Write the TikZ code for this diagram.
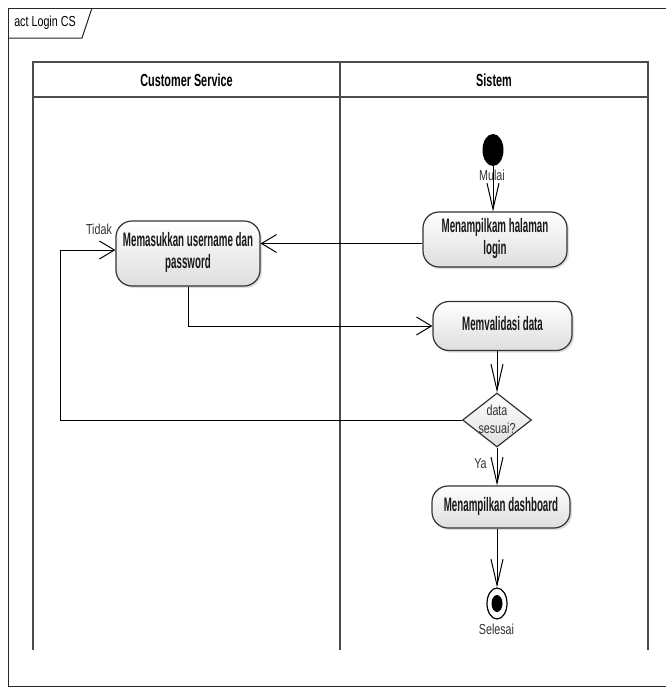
\documentclass[tikz,border=0pt]{standalone}
\usepackage{fontspec}
\setmainfont{Liberation Sans}
\usetikzlibrary{arrows.meta,shapes.geometric,shadows,calc}

% condensed text helpers
\newcommand{\boxtxt}[1]{\scalebox{0.5}[1]{\fontsize{19.5}{22}\selectfont\bfseries\begin{tabular}{@{}c@{}}#1\end{tabular}}}
\newcommand{\headtxt}[1]{\scalebox{0.62}[1]{\fontsize{17.5}{19}\selectfont\bfseries #1}}
\newcommand{\labtxt}[1]{\scalebox{0.74}[1]{\fontsize{14.5}{18}\selectfont\begin{tabular}{@{}c@{}}#1\end{tabular}}}

\begin{document}
\begin{tikzpicture}[x=1pt,y=-1pt,
  lane/.style={line width=1.5pt, draw=black!70},
  act/.style={draw=black!80, line width=1.2pt, rounded corners=16pt,
    top color=white, bottom color=black!13,
    drop shadow={shadow xshift=2pt,shadow yshift=-2pt,opacity=0.25},
    inner sep=0pt, text=black!90},
  flow/.style={line width=1pt, draw=black},
  harr/.style={flow, -{Straight Barb[length=15pt,width=18pt]}},
  varr/.style={flow, -{Straight Barb[length=26pt,width=12pt]}},
  lab/.style={inner sep=0pt, text=black!80},
]
\useasboundingbox (0,0) rectangle (666,688);
\fill[white] (0,0) rectangle (666,688);

% diagram frame and its name tab
\draw[line width=1pt, black!85] (666,8) -- (8,8) -- (8,686) -- (666,686);
\draw[line width=1pt, black!85] (8,38) -- (82,38) -- (92,8);
\node[lab, text=black] (frametitle) at (45,23) {\labtxt{act Login CS}};

% swimlanes
\draw[lane] (33,650) -- (33,62) -- (648,62) -- (648,650);
\draw[lane] (33,97) -- (648,97);
\draw[lane] (340,62) -- (340,650);
\node (laneA) at (186.5,80) {\headtxt{Customer Service}};
\node (laneB) at (494,80) {\headtxt{Sistem}};

% activity nodes
\node[fill=black, ellipse, minimum width=21pt, minimum height=32pt, inner sep=0pt] (init) at (493,150) {};
\node[act, minimum width=144pt, minimum height=55pt] (login) at (495,239.5) {\boxtxt{Menampilkam halaman\\login}};
\node[act, minimum width=144pt, minimum height=65pt] (input) at (188,253.5) {\boxtxt{Memasukkan username dan\\password}};
\node[act, minimum width=139pt, minimum height=49pt] (valid) at (502.5,326) {\boxtxt{Memvalidasi data}};
\node[diamond, draw=black!80, line width=1.2pt, top color=white, bottom color=black!13,
  minimum width=69pt, minimum height=54pt, inner sep=0pt] (dec) at (497,420) {};
\node[lab] (dectext) at (497,421) {\labtxt{data\\sesuai?}};
\node[act, minimum width=138pt, minimum height=42pt] (dash) at (501,507) {\boxtxt{Menampilkan dashboard}};
\node[ellipse, draw=black, line width=1.2pt, fill=white, minimum width=20pt, minimum height=31pt, inner sep=0pt] (final) at (497,603.5) {};
\node[ellipse, fill=black, minimum width=11pt, minimum height=17pt, inner sep=0pt] (finalcore) at (final.center) {};

% labels
\node[lab] (mulai) at (492,177) {\labtxt{Mulai}};
\node[lab] (tidak) at (99,231) {\labtxt{Tidak}};
\node[lab] (ya) at (480.5,465) {\labtxt{Ya}};
\node[lab] (selesai) at (496.5,631) {\labtxt{Selesai}};

% control flows
\coordinate (back) at (60,250);
\coordinate (showout) at ($(login.west)+(0,4)$);
\draw[varr] (init.south) -- (login.north -| init.south);
\draw[harr] (showout) -- (showout -| input.east);
\draw[harr] (input.south) |- (valid.west);
\draw[varr] (dec.north |- valid.south) -- (dec.north);
\draw[harr] (dec.west) -| (back) -- (back -| input.west);
\draw[varr] (dec.south) -- (dec.south |- dash.north);
\draw[varr] (final.north |- dash.south) -- (final.north);
\end{tikzpicture}
\end{document}
